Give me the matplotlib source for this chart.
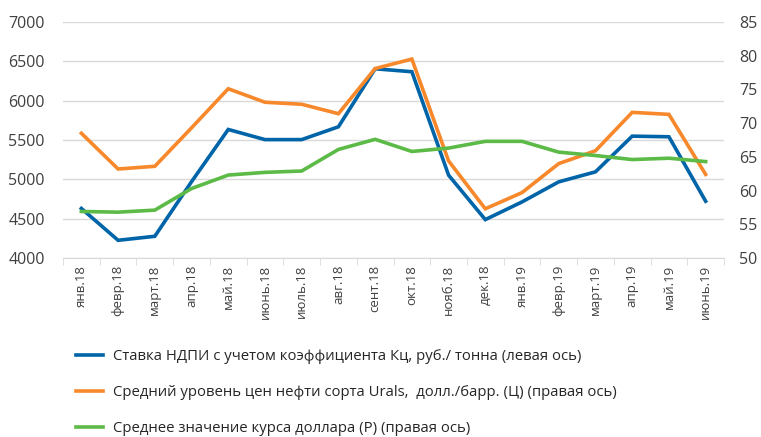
import numpy as np
import matplotlib
matplotlib.use("Agg")
from matplotlib import pyplot as plt

months = ["янв.18", "февр.18", "март.18", "апр.18", "май.18", "июнь.18",
          "июль.18", "авг.18", "сент.18", "окт.18", "нояб.18", "дек.18",
          "янв.19", "февр.19", "март.19", "апр.19", "май.19", "июнь.19"]

# ставка НДПИ, руб./тонна (левая ось)
ndpi = [4630, 4225, 4276, 4970, 5634, 5505, 5505, 5668, 6405,
        6368, 5053, 4488, 4713, 4968, 5095, 5549, 5541, 4722]
# Urals, долл./барр. (правая ось)
urals = [68.5, 63.2, 63.6, 69.3, 75.1, 73.1, 72.8, 71.4, 78.1,
         79.5, 64.4, 57.3, 59.7, 64.0, 65.9, 71.6, 71.3, 62.4]
# курс доллара (правая ось)
usd = [56.9, 56.8, 57.1, 60.3, 62.3, 62.7, 62.9, 66.1, 67.6,
       65.8, 66.3, 67.3, 67.3, 65.7, 65.2, 64.6, 64.8, 64.3]

labels = ["Ставка НДПИ с учетом коэффициента Кц, руб./ тонна (левая ось)",
          "Средний уровень цен нефти сорта Urals,  долл./барр. (Ц) (правая ось)",
          "Среднее значение курса доллара (Р) (правая ось)"]

c_blue = "#0064a8"
c_orange = "#f7882b"
c_green = "#5cba47"
c_text = "#404040"

plt.rcParams["font.family"] = ["Open Sans", "DejaVu Sans"]

fig = plt.figure(figsize=(7.61, 4.37), dpi=100)
ax = fig.add_axes([63 / 761, 1 - 258 / 437, 661 / 761, 236 / 437])
ax2 = ax.twinx()

x = np.arange(len(months))
l1, = ax.plot(x, ndpi, color=c_blue, lw=2.6, solid_joinstyle="miter")
l2, = ax2.plot(x, urals, color=c_orange, lw=2.6, solid_joinstyle="miter")
l3, = ax2.plot(x, usd, color=c_green, lw=2.6, solid_joinstyle="miter")

ax.set_xlim(-0.5, len(months) - 0.5)
ax.set_ylim(4000, 7000)
ax.set_yticks(range(4000, 7001, 500))
ax2.set_ylim(50, 85)
ax2.set_yticks(range(50, 86, 5))

ax.grid(axis="y", color="#d9d9d9", lw=1)
ax.set_axisbelow(True)
for a in (ax, ax2):
    for s in a.spines.values():
        s.set_visible(False)
ax.spines["bottom"].set_visible(True)
ax.spines["bottom"].set_color("#d9d9d9")

ax.set_xticks(x)
ax.set_xticklabels(months, rotation=90, fontsize=9.5, color=c_text)
ax.set_xticks(np.arange(-0.5, len(months)), minor=True)
ax.tick_params(axis="x", which="major", length=0, pad=5)
ax.tick_params(axis="x", which="minor", length=5, color="#d9d9d9")
ax.tick_params(axis="y", length=0, labelsize=11.5, labelcolor=c_text, pad=13)
ax2.tick_params(axis="y", length=0, labelsize=11.5, labelcolor=c_text, pad=11)

fig.legend([l1, l2, l3], labels, loc="upper left",
           bbox_to_anchor=(63 / 761, 1 - 336 / 437), frameon=False,
           fontsize=10.7, handlelength=1.8, handletextpad=0.65,
           labelspacing=1.4, labelcolor="#262626")

fig.savefig("out.png", dpi=100)
